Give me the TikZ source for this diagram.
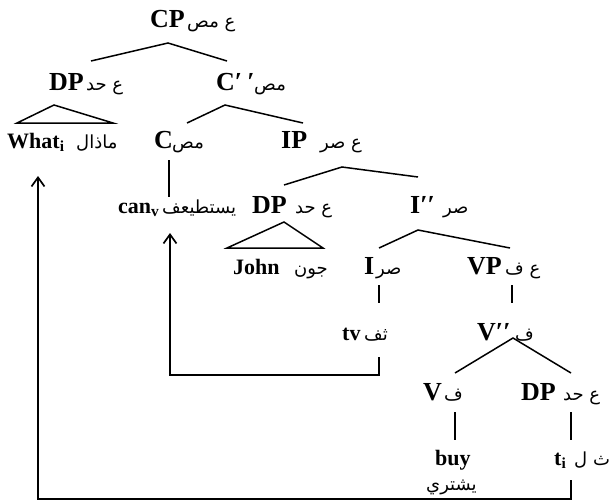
\documentclass[tikz,border=0pt]{standalone}
\usepackage{fontspec}
\setmainfont{Liberation Serif}
\newfontfamily\arabicfont[Script=Arabic]{DejaVu Sans}
\TeXXeTstate=1
\usetikzlibrary{arrows.meta}
\newcommand\artxt[1]{{\arabicfont\beginR #1\endR}}
\begin{document}
\begin{tikzpicture}[x=1pt,y=-1pt,
  cat/.style={font=\fontsize{26}{26}\selectfont\bfseries, inner sep=0pt, anchor=base west},
  lex/.style={font=\fontsize{22}{22}\selectfont\bfseries, inner sep=0pt, anchor=base west},
  ar/.style={font=\fontsize{18}{18}\selectfont, inner sep=0pt, anchor=base west},
  branch/.style={line width=1.5pt, line join=miter},
  move/.style={line width=1.7pt, -{Straight Barb[length=9pt,width=13pt,line width=1.7pt]}}]
\useasboundingbox (0,0) rectangle (610,501);
% row 1
\node[cat] (cp) at (150,27) {CP};
\node[ar] (cpa) at (187,27) {\artxt{ع مص}};
% row 2
\node[cat] (dp1) at (49,90) {DP};
\node[ar] (dp1a) at (86,90) {\artxt{ع حد}};
\node[cat] (cbar) at (216,90) {C′\hspace{5pt}′};
\node[ar] (cbara) at (254,90) {\artxt{مص}};
% row 3
\node[lex] (what) at (7,148) {What\textsubscript{i}};
\node[ar] (whata) at (76,148) {\artxt{ماذال}};
\node[cat] (c) at (154,148) {C};
\node[ar] (ca) at (172,148) {\artxt{مص}};
\node[cat] (ip) at (281,148) {IP};
\node[ar] (ipa) at (320,148) {\artxt{ع صر}};
% row 4
\node[lex] (can) at (118,213) {can\textsubscript{v}};
\node[ar] (cana) at (162,213) {\artxt{يستطيعف}};
\node[cat] (dp2) at (252,213) {DP};
\node[ar] (dp2a) at (295,213) {\artxt{ع حد}};
\node[cat] (ibar) at (410,213) {I′′};
\node[ar] (ibara) at (443,213) {\artxt{صر}};
% row 5
\node[lex] (john) at (233,274) {John};
\node[ar] (johna) at (294,274) {\artxt{جون}};
\node[cat] (i) at (364,274) {I};
\node[ar] (ia) at (376,274) {\artxt{صر}};
\node[cat] (vp) at (467,274) {VP};
\node[ar] (vpa) at (505,274) {\artxt{ع ف}};
% row 6
\node[lex] (tv) at (342,340) {tv};
\node[ar] (tva) at (364,340) {\artxt{ثف}};
\node[cat] (vbar) at (477,340) {V′′};
\node[ar] (vbara) at (515,340) {\artxt{ف}};
% row 7
\node[cat] (v) at (423,400) {V};
\node[ar] (va) at (444,400) {\artxt{ف}};
\node[cat] (dp3) at (521,400) {DP};
\node[ar] (dp3a) at (563,400) {\artxt{ع حد}};
% row 8
\node[lex] (buy) at (435,465) {buy};
\node[ar] (buya) at (426,490) {\artxt{يشتري}};
\node[lex] (ti) at (554,465) {t\textsubscript{i}};
\node[ar] (tia) at (574,465) {\artxt{ث ل}};
% roof coordinates
\coordinate (cpL) at (91,61); \coordinate (cpT) at (168,43); \coordinate (cpR) at (227,61);
\coordinate (dpL) at (17,123); \coordinate (dpT) at (54,105); \coordinate (dpR) at (113,123);
\coordinate (cbL) at (187,123); \coordinate (cbT) at (225,105); \coordinate (cbR) at (303,123);
\coordinate (cT) at (169,160); \coordinate (cB) at (169,197);
\coordinate (ipL) at (284,185); \coordinate (ipT) at (342,167); \coordinate (ipR) at (418,177);
\coordinate (jL) at (227,248); \coordinate (jT) at (284,222); \coordinate (jR) at (323,248);
\coordinate (ibL) at (379,248); \coordinate (ibT) at (418,230); \coordinate (ibR) at (510,248);
\coordinate (iT) at (379,285); \coordinate (iB) at (379,303);
\coordinate (vpT) at (512,285); \coordinate (vpB) at (512,303);
\coordinate (vbL) at (455,373); \coordinate (vbT) at (513,338); \coordinate (vbR) at (571,373);
\coordinate (vT) at (455,412); \coordinate (vB) at (455,440);
\coordinate (dT) at (571,412); \coordinate (dB) at (571,440);
\coordinate (tvT) at (379,357); \coordinate (tvB) at (379,375); \coordinate (canC) at (170,375); \coordinate (canA) at (170,233);
\coordinate (tiT) at (571,480); \coordinate (tiB) at (571,499); \coordinate (whC) at (38,499); \coordinate (whA) at (38,176);
% branches
\draw[branch] (cpL) -- (cpT) -- (cpR);
\draw[branch] (dpL) -- (dpT) -- (dpR) -- cycle;
\draw[branch] (cbL) -- (cbT) -- (cbR);
\draw[branch] (cT) -- (cB);
\draw[branch] (ipL) -- (ipT) -- (ipR);
\draw[branch] (jL) -- (jT) -- (jR) -- cycle;
\draw[branch] (ibL) -- (ibT) -- (ibR);
\draw[branch] (iT) -- (iB);
\draw[branch] (vpT) -- (vpB);
\draw[branch] (vbL) -- (vbT) -- (vbR);
\draw[branch] (vT) -- (vB);
\draw[branch] (dT) -- (dB);
% movement arrows
\draw[move] (tvT) -- (tvB) -- (canC) -- (canA);
\draw[move] (tiT) -- (tiB) -- (whC) -- (whA);
\end{tikzpicture}
\end{document}
